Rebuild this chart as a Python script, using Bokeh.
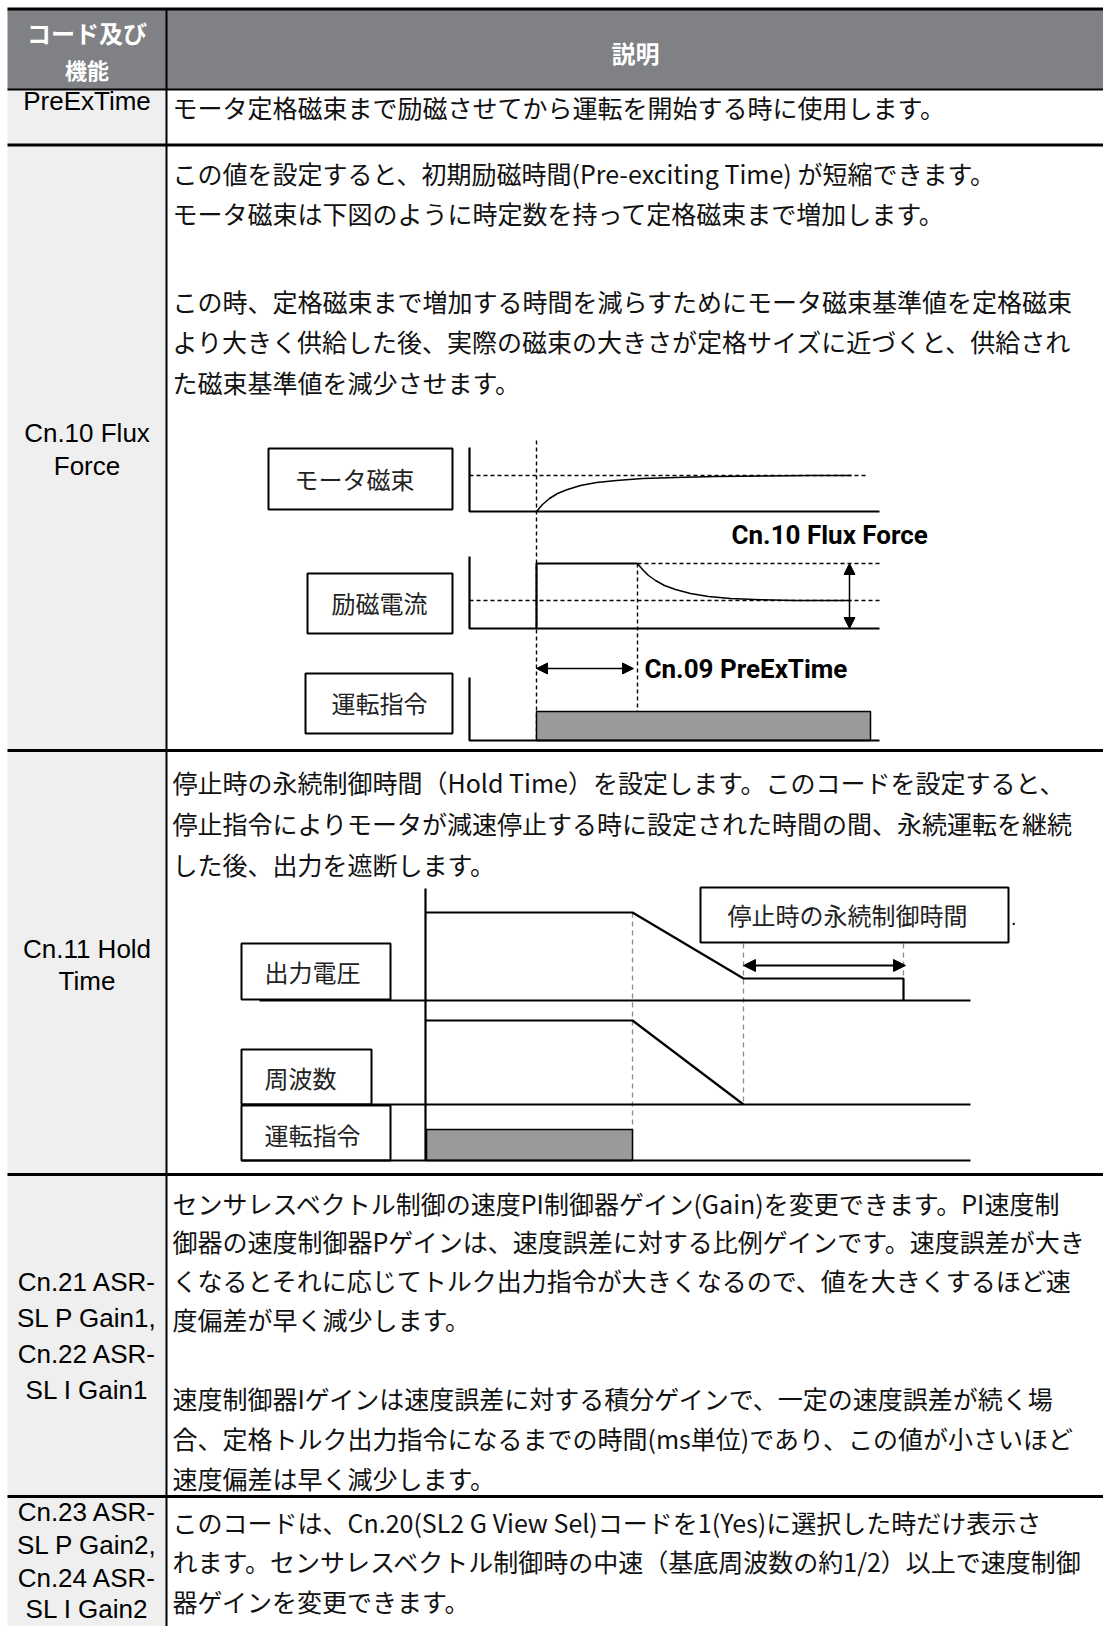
from bokeh.plotting import figure
from bokeh.models import Range1d, ColumnDataSource, Arrow, NormalHead
from bokeh.embed import file_html
from bokeh.resources import INLINE
from bokeh.core.properties import value

JP = value("Noto Sans CJK JP")
LAT = value("Liberation Sans")
ANN = value("Roboto")

# ---------------- table structure ----------------
table_left = 7
table_right = 1103
col_div_x = 166
top_rule_y = 8.5
header_bottom_y = 89
row_rules_y = [144.5, 750, 1174, 1496]

header_left_text = ["コード及び", "機能"]
header_left_y = [32, 68]
header_left_size = ["24px", "22px"]
header_right_text = ["説明"]
header_right_x = [635]
header_right_y = [52]

code_labels = ["PreExTime",
               "Cn.10 Flux", "Force",
               "Cn.11 Hold", "Time",
               "Cn.21 ASR-", "SL P Gain1,", "Cn.22 ASR-", "SL I Gain1",
               "Cn.23 ASR-", "SL P Gain2,", "Cn.24 ASR-", "SL I Gain2"]
code_label_y = [100,
                432, 465,
                948, 980,
                1281, 1317, 1353, 1389,
                1511, 1544, 1577, 1608]

body_text = [
    "モータ定格磁束まで励磁させてから運転を開始する時に使用します。",
    "この値を設定すると、初期励磁時間(Pre-exciting Time) が短縮できます。",
    "モータ磁束は下図のように時定数を持って定格磁束まで増加します。",
    "この時、定格磁束まで増加する時間を減らすためにモータ磁束基準値を定格磁束",
    "より大きく供給した後、実際の磁束の大きさが定格サイズに近づくと、供給され",
    "た磁束基準値を減少させます。",
    "停止時の永続制御時間（Hold Time）を設定します。このコードを設定すると、",
    "停止指令によりモータが減速停止する時に設定された時間の間、永続運転を継続",
    "した後、出力を遮断します。",
    "センサレスベクトル制御の速度PI制御器ゲイン(Gain)を変更できます。PI速度制",
    "御器の速度制御器Pゲインは、速度誤差に対する比例ゲインです。速度誤差が大き",
    "くなるとそれに応じてトルク出力指令が大きくなるので、値を大きくするほど速",
    "度偏差が早く減少します。",
    "速度制御器Iゲインは速度誤差に対する積分ゲインで、一定の速度誤差が続く場",
    "合、定格トルク出力指令になるまでの時間(ms単位)であり、この値が小さいほど",
    "速度偏差は早く減少します。",
    "このコードは、Cn.20(SL2 G View Sel)コードを1(Yes)に選択した時だけ表示さ",
    "れます。センサレスベクトル制御時の中速（基底周波数の約1/2）以上で速度制御",
    "器ゲインを変更できます。",
]
body_y = [106,
          172, 212, 300, 340, 381,
          781, 822, 863,
          1202, 1240, 1279, 1318, 1397, 1437, 1477,
          1521, 1560, 1600]
body_x = 172

# ---------------- diagram 1 (Cn.10 Flux Force) ----------------
d1_box_left = [268, 307, 305]
d1_box_right = [452, 452, 452]
d1_box_top = [448, 573, 673]
d1_box_bottom = [509, 633, 733]
d1_box_text = ["モータ磁束", "励磁電流", "運転指令"]
d1_box_text_x = [354, 379, 379]
d1_box_text_y = [478, 602, 702]

d1_solid_xs = [[469, 469, 879], [469, 469, 879], [469, 469, 879],
               [536, 536, 637]]
d1_solid_ys = [[447, 511, 511], [556, 628, 628], [677, 740, 740],
               [628, 563, 563]]

flux_curve_x = [536, 542, 549, 557, 567, 580, 596, 616, 642, 675, 715, 765, 810, 851]
flux_curve_y = [511, 504, 498, 493, 489, 485, 482, 480, 478, 477, 476, 475.5, 475, 475]
exc_curve_x = [637, 642, 648, 655, 664, 675, 690, 708, 730, 760, 795, 830, 851]
exc_curve_y = [563, 569, 575, 580, 585, 589, 593, 596, 598, 599.3, 600, 600, 600]

d1_dash_xs = [[536, 536], [637, 637], [469, 866], [637, 879], [469, 879]]
d1_dash_ys = [[440, 740], [563, 740], [475, 475], [563, 563], [600, 600]]

run1_left, run1_right, run1_top, run1_bottom = [536], [870], [711], [740]

d1_arrow_x0 = [849, 536]
d1_arrow_y0 = [563, 668]
d1_arrow_x1 = [849, 633]
d1_arrow_y1 = [628, 668]

d1_ann_text = ["Cn.10 Flux Force", "Cn.09 PreExTime"]
d1_ann_x = [731, 644]
d1_ann_y = [534, 668]

# ---------------- diagram 2 (Cn.11 Hold Time) ----------------
d2_box_left = [241, 241, 241, 700]
d2_box_right = [390, 371, 390, 1008]
d2_box_top = [943, 1049, 1105, 887]
d2_box_bottom = [999, 1104, 1160, 942]
d2_box_text = ["出力電圧", "周波数", "運転指令", "停止時の永続制御時間"]
d2_box_text_x = [312, 300, 312, 847]
d2_box_text_y = [971, 1077, 1134, 914]

d2_solid_xs = [[425, 425], [259, 970], [241, 970], [241, 970],
               [425, 632, 743, 903, 903], [425, 632, 743]]
d2_solid_ys = [[888, 1160], [1000, 1000], [1104, 1104], [1160, 1160],
               [912, 912, 978, 978, 1000], [1020, 1020, 1104]]

d2_dash_xs = [[632, 632], [743, 743], [903, 903]]
d2_dash_ys = [[912, 1160], [943, 1104], [943, 978]]

run2_left, run2_right, run2_top, run2_bottom = [426], [632], [1129], [1160]

d2_arrow_x0 = [743]
d2_arrow_y0 = [965]
d2_arrow_x1 = [905]
d2_arrow_y1 = [965]

# ---------------- figure ----------------
p = figure(width=1103, height=1626, output_backend="svg", toolbar_location=None,
           x_range=Range1d(0, 1103), y_range=Range1d(1626, 0),
           min_border=0)
p.axis.visible = False
p.grid.visible = False
p.outline_line_color = None
p.background_fill_color = "white"

# table fills
p.quad(left=[table_left], right=[table_right], top=[top_rule_y], bottom=[header_bottom_y],
       fill_color="#808184", line_color=None)
p.quad(left=[table_left], right=[col_div_x], top=[header_bottom_y], bottom=[1640],
       fill_color="#efefef", line_color=None)

# table rules
p.segment(x0=[table_left], y0=[top_rule_y], x1=[table_right], y1=[top_rule_y],
          line_color="black", line_width=3)
p.segment(x0=[table_left], y0=[header_bottom_y], x1=[table_right], y1=[header_bottom_y],
          line_color="black", line_width=2)
p.segment(x0=[table_left] * len(row_rules_y), y0=row_rules_y,
          x1=[table_right] * len(row_rules_y), y1=row_rules_y,
          line_color="black", line_width=3)
p.segment(x0=[col_div_x], y0=[top_rule_y], x1=[col_div_x], y1=[1640],
          line_color="black", line_width=2)

# header texts
for t, y, s in zip(header_left_text, header_left_y, header_left_size):
    p.text(x=[86.5], y=[y], text=[t], text_font=JP, text_font_size=s,
           text_font_style="bold", text_color="white",
           text_align="center", text_baseline="middle")
p.text(x=header_right_x, y=header_right_y, text=header_right_text, text_font=JP,
       text_font_size="24px", text_font_style="bold", text_color="white",
       text_align="center", text_baseline="middle")

# code labels
p.text(x=[86.5] * len(code_labels), y=code_label_y, text=code_labels, text_font=LAT,
       text_font_size="26px", text_color="black", text_align="center",
       text_baseline="middle")

# body text
p.text(x=[body_x] * len(body_text), y=body_y, text=body_text, text_font=JP,
       text_font_size="25px", text_color="#111111", text_align="left",
       text_baseline="middle")

# ---- diagram 1 ----
p.multi_line(xs=d1_dash_xs, ys=d1_dash_ys, line_color="black", line_width=1.4,
             line_dash="4 3")
p.quad(left=run1_left, right=run1_right, top=run1_top, bottom=run1_bottom,
       fill_color="#9a9a9a", line_color="black", line_width=1.5)
p.quad(left=d1_box_left, right=d1_box_right, top=d1_box_top, bottom=d1_box_bottom,
       fill_color="white", line_color="black", line_width=2)
p.multi_line(xs=d1_solid_xs, ys=d1_solid_ys, line_color="black", line_width=2.2)
p.line(flux_curve_x, flux_curve_y, line_color="black", line_width=1.5)
p.line(exc_curve_x, exc_curve_y, line_color="black", line_width=1.5)
p.text(x=d1_box_text_x, y=d1_box_text_y, text=d1_box_text, text_font=JP,
       text_font_size="24px", text_color="#222222", text_align="center",
       text_baseline="middle")
p.text(x=d1_ann_x, y=d1_ann_y, text=d1_ann_text, text_font=ANN,
       text_font_size="26px", text_font_style="bold", text_color="black",
       text_align="left", text_baseline="middle")
src1 = ColumnDataSource(dict(x0=d1_arrow_x0, y0=d1_arrow_y0, x1=d1_arrow_x1, y1=d1_arrow_y1))
p.add_layout(Arrow(source=src1, x_start="x0", y_start="y0", x_end="x1", y_end="y1",
                   line_color="black", line_width=1.5,
                   start=NormalHead(size=11, fill_color="black", line_color="black"),
                   end=NormalHead(size=11, fill_color="black", line_color="black")))

# ---- diagram 2 ----
p.multi_line(xs=d2_dash_xs, ys=d2_dash_ys, line_color="#8a8a8a", line_width=1.3,
             line_dash="5 4")
p.quad(left=run2_left, right=run2_right, top=run2_top, bottom=run2_bottom,
       fill_color="#9a9a9a", line_color="black", line_width=1.5)
p.quad(left=d2_box_left, right=d2_box_right, top=d2_box_top, bottom=d2_box_bottom,
       fill_color="white", line_color="black", line_width=2)
p.multi_line(xs=d2_solid_xs, ys=d2_solid_ys, line_color="black", line_width=2.2)
p.text(x=d2_box_text_x, y=d2_box_text_y, text=d2_box_text, text_font=JP,
       text_font_size="24px", text_color="#222222", text_align="center",
       text_baseline="middle")
p.text(x=[1011], y=[918], text=["."], text_font=JP, text_font_size="16px",
       text_color="black", text_align="left", text_baseline="middle")
src2 = ColumnDataSource(dict(x0=d2_arrow_x0, y0=d2_arrow_y0, x1=d2_arrow_x1, y1=d2_arrow_y1))
p.add_layout(Arrow(source=src2, x_start="x0", y_start="y0", x_end="x1", y_end="y1",
                   line_color="black", line_width=2,
                   start=NormalHead(size=12, fill_color="black", line_color="black"),
                   end=NormalHead(size=12, fill_color="black", line_color="black")))

open("out.html", "w").write(file_html(p, INLINE))
